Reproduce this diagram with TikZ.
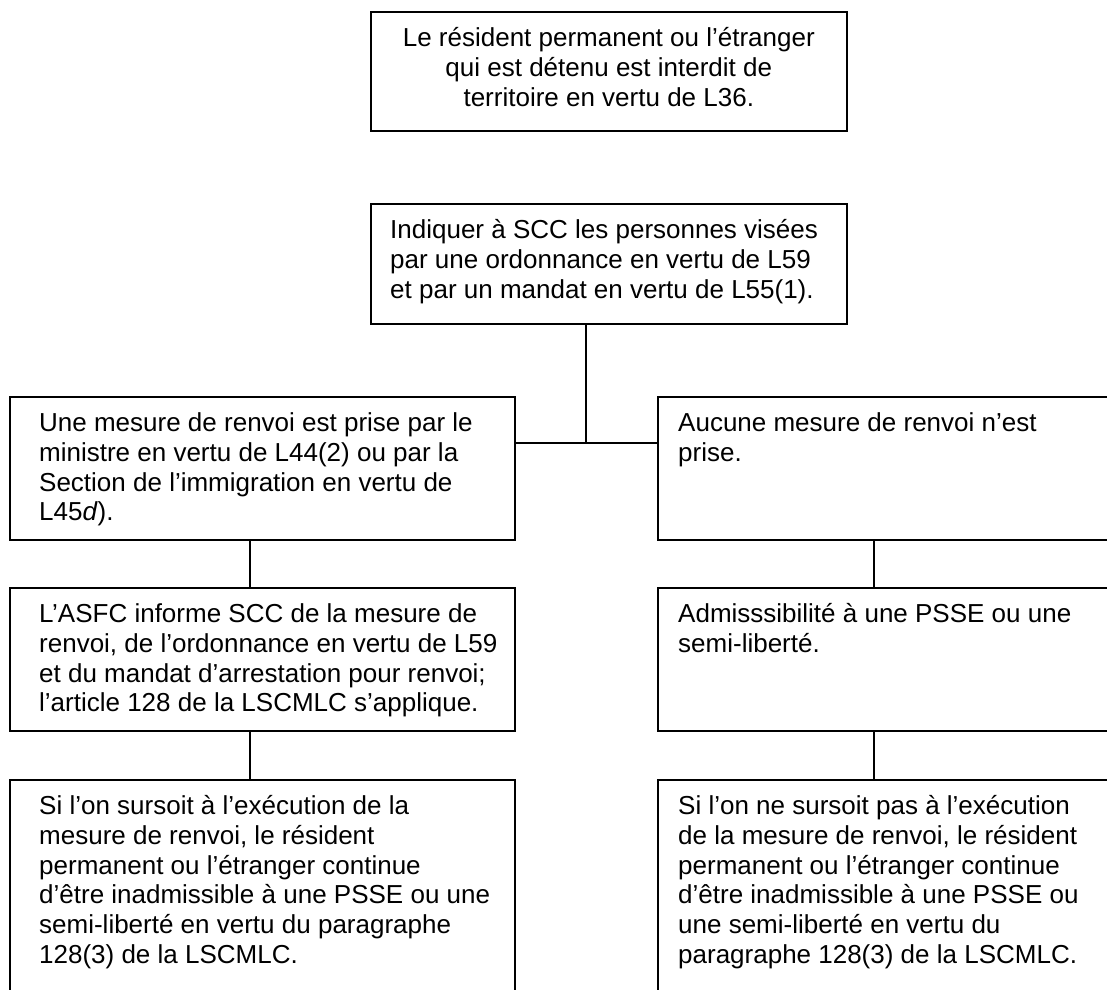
\documentclass[tikz,border=0pt]{standalone}
\usepackage{fontspec}
\setmainfont{Liberation Sans}
\newcommand{\firstline}{\rule{0pt}{25pt}}
\begin{document}
\begin{tikzpicture}[x=1pt,y=-1pt,
  box/.style={draw=black,line width=1.6pt,rectangle,inner sep=0pt,anchor=north west},
  txt/.style={inner sep=0pt,anchor=north west,align=left,font=\fontsize{26}{29.9}\selectfont},
  ctxt/.style={inner sep=0pt,anchor=north,align=center,font=\fontsize{26}{29.9}\selectfont},
  link/.style={draw=black,line width=1.4pt}]
\useasboundingbox (0,0) rectangle (1107,989);
\fill[white] (0,0) rectangle (1107,989);
\clip (0,0) rectangle (1107,989);
% top boxes
\node[box,minimum width=476pt,minimum height=119pt] (top) at (370,11) {};
\node[ctxt] (toptxt) at ([yshift=-10pt]top.north) {\firstline Le résident permanent ou l’étranger\\qui est détenu est interdit de\\territoire en vertu de L36.};
\node[box,minimum width=476pt,minimum height=120pt] (ind) at (370,203) {};
\node[txt] (indtxt) at ([xshift=20pt,yshift=-10pt]ind.north west) {\firstline Indiquer à SCC les personnes visées\\par une ordonnance en vertu de L59\\et par un mandat en vertu de L55(1).};
% left column
\node[box,minimum width=505pt,minimum height=143pt] (l1) at (9,396) {};
\node[txt] (l1txt) at ([xshift=30pt,yshift=-10pt]l1.north west) {\firstline Une mesure de renvoi est prise par le\\ministre en vertu de L44(2) ou par la\\Section de l’immigration en vertu de\\L45\textit{d}).};
\node[box,minimum width=505pt,minimum height=143pt] (l2) at (9,587) {};
\node[txt] (l2txt) at ([xshift=30pt,yshift=-10pt]l2.north west) {\firstline L’ASFC informe SCC de la mesure de\\renvoi, de l’ordonnance en vertu de L59\\et du mandat d’arrestation pour renvoi;\\l’article 128 de la LSCMLC s’applique.};
\node[box,minimum width=505pt,minimum height=260pt] (l3) at (9,779) {};
\node[txt] (l3txt) at ([xshift=30pt,yshift=-10pt]l3.north west) {\firstline Si l’on sursoit à l’exécution de la\\mesure de renvoi, le résident\\permanent ou l’étranger continue\\d’être inadmissible à une PSSE ou une\\semi-liberté en vertu du paragraphe\\128(3) de la LSCMLC.};
% right column
\node[box,minimum width=500pt,minimum height=143pt] (r1) at (657,396) {};
\node[txt] (r1txt) at ([xshift=21pt,yshift=-10pt]r1.north west) {\firstline Aucune mesure de renvoi n’est\\prise.};
\node[box,minimum width=500pt,minimum height=143pt] (r2) at (657,587) {};
\node[txt] (r2txt) at ([xshift=21pt,yshift=-10pt]r2.north west) {\firstline Admisssibilité à une PSSE ou une\\semi-liberté.};
\node[box,minimum width=500pt,minimum height=260pt] (r3) at (657,779) {};
\node[txt] (r3txt) at ([xshift=21pt,yshift=-10pt]r3.north west) {\firstline Si l’on ne sursoit pas à l’exécution\\de la mesure de renvoi, le résident\\permanent ou l’étranger continue\\d’être inadmissible à une PSSE ou\\une semi-liberté en vertu du\\paragraphe 128(3) de la LSCMLC.};
% connectors
\coordinate (jn) at (586,443);
\path[link] (ind.south -| jn) -- (jn);
\path[link] (l1.east |- jn) -- (r1.west |- jn);
\coordinate (lx) at (250,0);
\coordinate (rx) at (874,0);
\path[link] (l1.south -| lx) -- (l2.north -| lx);
\path[link] (l2.south -| lx) -- (l3.north -| lx);
\path[link] (r1.south -| rx) -- (r2.north -| rx);
\path[link] (r2.south -| rx) -- (r3.north -| rx);
\end{tikzpicture}
\end{document}
